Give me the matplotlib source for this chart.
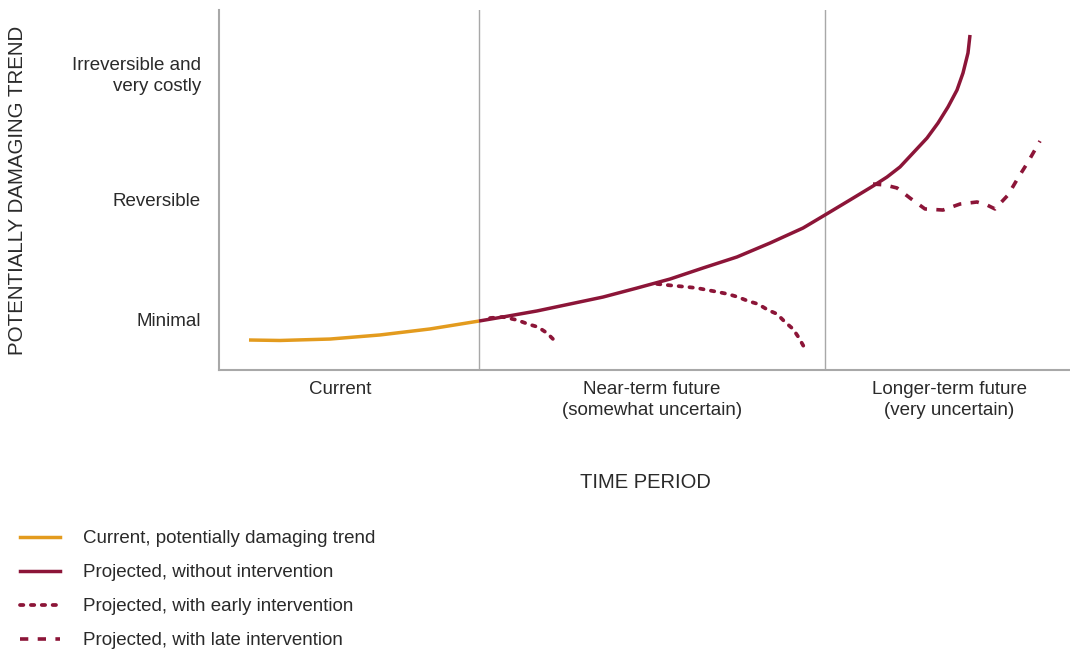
import matplotlib
matplotlib.use('Agg')
import matplotlib.pyplot as plt
from matplotlib.lines import Line2D

plt.rcParams['font.family'] = ['Liberation Sans', 'DejaVu Sans']

ORANGE = '#E39B1E'
RED = '#8C1538'
TEXT = '#2a2a2a'
GREY = '#a8a8a8'

# time axis in arbitrary units, level axis: 1 = minimal, 2 = reversible, 3.06 = irreversible
period_edges = [26.0, 60.6]
period_centres = [12.1, 43.3, 73.0]
period_labels = ['Current', 'Near-term future\n(somewhat uncertain)',
                 'Longer-term future\n(very uncertain)']
level_ticks = [1.0, 2.0, 3.06]
level_labels = ['Minimal', 'Reversible', 'Irreversible and\nvery costly']

current_x = [3.0, 6.1, 11.1, 16.1, 21.1, 26.0]
current_y = [0.825, 0.821, 0.833, 0.867, 0.917, 0.983]

no_action_x = [26.0, 28.4, 31.8, 35.1, 38.4, 41.8, 45.1, 48.4, 51.8, 55.1,
               58.4, 60.6, 63.1, 65.4, 66.8, 68.1, 69.4, 70.8, 71.9, 72.9,
               73.8, 74.4, 74.9, 75.1]
no_action_y = [0.983, 1.017, 1.067, 1.125, 1.183, 1.258, 1.333, 1.425, 1.517, 1.633,
               1.758, 1.867, 1.992, 2.108, 2.183, 2.267, 2.383, 2.508, 2.633, 2.767,
               2.908, 3.05, 3.217, 3.367]

early_a_x = [27.1, 28.4, 29.8, 30.9, 31.9, 32.8, 33.7]
early_a_y = [1.008, 1.017, 0.992, 0.958, 0.933, 0.883, 0.808]

early_b_x = [43.8, 44.8, 45.8, 46.8, 47.8, 48.8, 49.9, 50.9, 51.9, 52.9,
             53.9, 54.9, 55.8, 56.6, 57.4, 58.0, 58.5]
early_b_y = [1.292, 1.283, 1.275, 1.267, 1.258, 1.242, 1.225, 1.208, 1.183, 1.15,
             1.125, 1.075, 1.042, 0.975, 0.917, 0.842, 0.767]

late_x = [65.4, 66.6, 67.8, 69.1, 70.6, 72.4, 74.1, 75.8, 76.8, 77.6,
          78.9, 79.9, 80.9, 82.1]
late_y = [2.125, 2.117, 2.092, 2.008, 1.917, 1.908, 1.958, 1.975, 1.95, 1.917,
          2.033, 2.175, 2.308, 2.483]

legend_labels = ['Current, potentially damaging trend',
                 'Projected, without intervention',
                 'Projected, with early intervention',
                 'Projected, with late intervention']

DOTS = (0, (0.9, 2.0))
DASHES = (0, (2.3, 2.6))

fig = plt.figure(figsize=(10.7, 6.5), dpi=100)
ax = fig.add_axes([219 / 1070, 1 - 370 / 650, 1 - 219 / 1070, 360 / 650])

for xe in period_edges:
    ax.axvline(xe, color=GREY, lw=1.0, zorder=1)

ax.plot(current_x, current_y, color=ORANGE, lw=2.5, solid_capstyle='butt',
        solid_joinstyle='round', zorder=3)
ax.plot(no_action_x, no_action_y, color=RED, lw=2.5, solid_capstyle='butt',
        solid_joinstyle='round', zorder=3)
for xs, ys in [(early_a_x, early_a_y), (early_b_x, early_b_y)]:
    ax.plot(xs, ys, color=RED, lw=2.7, linestyle=DOTS, dash_capstyle='round', zorder=2)
ax.plot(late_x, late_y, color=RED, lw=2.6, linestyle=DASHES, dash_capstyle='butt', zorder=2)

ax.set_xlim(0, 85.1)
ax.set_ylim(0.575, 3.575)
ax.set_xticks(period_centres)
ax.set_xticklabels(period_labels, fontsize=13.5, color=TEXT, linespacing=1.3)
ax.set_yticks(level_ticks)
ax.set_yticklabels(level_labels, fontsize=13.5, color=TEXT, ha='right',
                   multialignment='right', linespacing=1.3)
ax.tick_params(axis='both', length=0)
ax.tick_params(axis='x', pad=8)
ax.tick_params(axis='y', pad=13)

for side in ['top', 'right']:
    ax.spines[side].set_visible(False)
for side in ['left', 'bottom']:
    ax.spines[side].set_color(GREY)
    ax.spines[side].set_linewidth(1.5)

fig.text(18 / 1070, 1 - 190 / 650, 'POTENTIALLY DAMAGING TREND', rotation=90,
         ha='center', va='center', fontsize=14.8, color=TEXT)
fig.text(645 / 1070, 1 - 482 / 650, 'TIME PERIOD', ha='center', va='center',
         fontsize=14.5, color=TEXT)

handles = [
    Line2D([], [], color=ORANGE, lw=2.5),
    Line2D([], [], color=RED, lw=2.5),
    Line2D([], [], color=RED, lw=2.7, linestyle=DOTS, dash_capstyle='round'),
    Line2D([], [], color=RED, lw=2.6, linestyle=DASHES),
]
leg = fig.legend(handles, legend_labels, loc='upper left',
                 bbox_to_anchor=(20 / 1070, 1 - 530 / 650), frameon=False,
                 fontsize=13.5, handlelength=2.13, handletextpad=1.23,
                 labelspacing=0.9, borderpad=0, borderaxespad=0)
for t in leg.get_texts():
    t.set_color(TEXT)

fig.savefig('out.png', dpi=100)
